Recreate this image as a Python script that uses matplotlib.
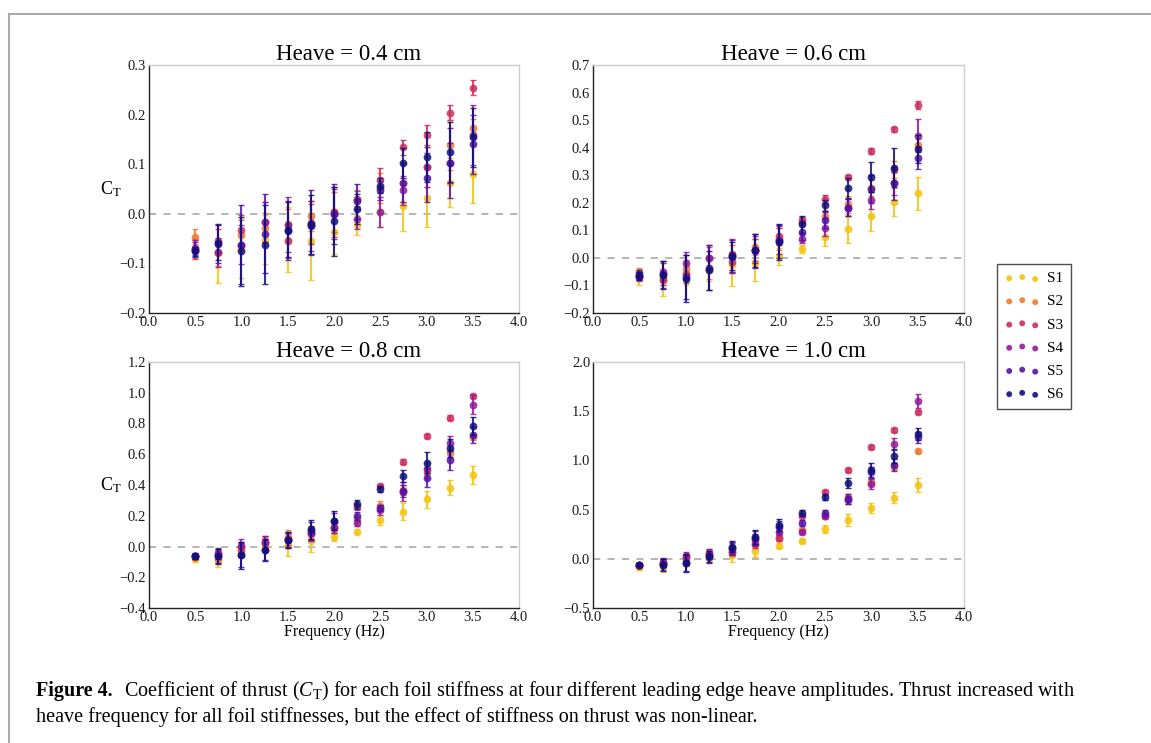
import matplotlib

matplotlib.use("Agg")
import matplotlib.pyplot as plt
from matplotlib.lines import Line2D

FREQ = [0.5, 0.75, 1.0, 1.25, 1.5, 1.75, 2.0, 2.25, 2.5, 2.75, 3.0, 3.25, 3.5]
SERIES = ["S1", "S2", "S3", "S4", "S5", "S6"]
COLORS = ["#f2c40f", "#f07a2a", "#cc2e5e", "#951a9a", "#5412a8", "#10107a"]
HEAVES = ["0.4", "0.6", "0.8", "1.0"]

# thrust coefficient, one row per stiffness S1..S6
CT_04 = [
    [-0.070, -0.080, -0.070, -0.052, -0.052, -0.054, -0.036, -0.022, 0.003, 0.015, 0.032, 0.063, 0.080],
    [-0.046, -0.080, -0.042, -0.029, -0.020, -0.004, 0.003, 0.028, 0.052, 0.063, 0.094, 0.139, 0.172],
    [-0.072, -0.055, -0.032, -0.017, -0.055, -0.020, 0.004, 0.030, 0.068, 0.134, 0.159, 0.204, 0.254],
    [-0.068, -0.078, -0.062, -0.017, -0.022, -0.024, 0.000, -0.010, 0.003, 0.047, 0.094, 0.102, 0.159],
    [-0.072, -0.060, -0.062, -0.040, -0.034, -0.018, 0.000, 0.025, 0.047, 0.063, 0.073, 0.102, 0.140],
    [-0.076, -0.058, -0.076, -0.062, -0.032, -0.022, -0.015, 0.010, 0.057, 0.103, 0.115, 0.125, 0.154],
]
ERR_04 = [
    [0.020, 0.060, 0.060, 0.050, 0.065, 0.080, 0.045, 0.020, 0.030, 0.050, 0.058, 0.050, 0.058],
    [0.015, 0.025, 0.030, 0.030, 0.030, 0.030, 0.040, 0.020, 0.030, 0.040, 0.040, 0.050, 0.020],
    [0.020, 0.025, 0.030, 0.040, 0.035, 0.040, 0.050, 0.015, 0.025, 0.015, 0.020, 0.015, 0.015],
    [0.015, 0.030, 0.040, 0.040, 0.055, 0.050, 0.050, 0.020, 0.030, 0.030, 0.040, 0.040, 0.060],
    [0.015, 0.040, 0.080, 0.080, 0.060, 0.065, 0.060, 0.035, 0.020, 0.040, 0.050, 0.070, 0.060],
    [0.010, 0.035, 0.070, 0.080, 0.055, 0.060, 0.070, 0.030, 0.015, 0.030, 0.050, 0.060, 0.060],
]

CT_06 = [
    [-0.070, -0.080, -0.060, -0.045, -0.027, -0.018, 0.006, 0.032, 0.074, 0.105, 0.151, 0.203, 0.234],
    [-0.050, -0.070, -0.039, -0.040, 0.015, 0.040, 0.070, 0.130, 0.152, 0.194, 0.254, 0.320, 0.410],
    [-0.070, -0.080, -0.060, 0.000, -0.015, 0.030, 0.078, 0.137, 0.213, 0.292, 0.387, 0.466, 0.554],
    [-0.065, -0.050, -0.020, 0.000, 0.010, 0.030, 0.065, 0.068, 0.110, 0.182, 0.209, 0.270, 0.443],
    [-0.060, -0.060, -0.070, -0.035, 0.005, 0.025, 0.060, 0.095, 0.137, 0.182, 0.250, 0.270, 0.364],
    [-0.065, -0.063, -0.075, -0.045, 0.006, 0.028, 0.058, 0.122, 0.191, 0.254, 0.294, 0.327, 0.395],
]
ERR_06 = [
    [0.030, 0.060, 0.040, 0.040, 0.075, 0.065, 0.030, 0.015, 0.030, 0.050, 0.055, 0.050, 0.060],
    [0.015, 0.030, 0.030, 0.035, 0.030, 0.030, 0.040, 0.015, 0.020, 0.030, 0.030, 0.030, 0.020],
    [0.015, 0.020, 0.030, 0.040, 0.035, 0.040, 0.030, 0.010, 0.015, 0.010, 0.010, 0.010, 0.015],
    [0.015, 0.030, 0.040, 0.045, 0.060, 0.050, 0.050, 0.015, 0.030, 0.030, 0.030, 0.040, 0.060],
    [0.015, 0.050, 0.080, 0.080, 0.060, 0.060, 0.060, 0.030, 0.030, 0.030, 0.050, 0.060, 0.040],
    [0.015, 0.050, 0.085, 0.070, 0.050, 0.060, 0.065, 0.030, 0.020, 0.035, 0.055, 0.070, 0.050],
]

CT_08 = [
    [-0.080, -0.086, -0.030, 0.010, 0.010, 0.037, 0.065, 0.097, 0.173, 0.227, 0.307, 0.383, 0.465],
    [-0.070, -0.080, -0.020, 0.030, 0.065, 0.090, 0.120, 0.177, 0.266, 0.368, 0.486, 0.605, 0.714],
    [-0.060, -0.040, 0.000, 0.028, 0.050, 0.080, 0.120, 0.260, 0.394, 0.551, 0.718, 0.839, 0.979],
    [-0.065, -0.050, 0.006, 0.025, 0.040, 0.085, 0.125, 0.151, 0.238, 0.357, 0.502, 0.670, 0.923],
    [-0.060, -0.060, -0.055, -0.020, 0.045, 0.100, 0.165, 0.200, 0.249, 0.360, 0.448, 0.560, 0.724],
    [-0.065, -0.065, -0.058, -0.022, 0.043, 0.112, 0.169, 0.274, 0.374, 0.458, 0.545, 0.642, 0.785],
]
ERR_08 = [
    [0.020, 0.050, 0.040, 0.040, 0.070, 0.070, 0.030, 0.015, 0.035, 0.055, 0.055, 0.050, 0.060],
    [0.015, 0.030, 0.030, 0.030, 0.040, 0.040, 0.030, 0.020, 0.030, 0.030, 0.040, 0.030, 0.020],
    [0.010, 0.020, 0.030, 0.040, 0.040, 0.040, 0.030, 0.015, 0.015, 0.015, 0.015, 0.015, 0.015],
    [0.015, 0.030, 0.040, 0.045, 0.050, 0.050, 0.040, 0.020, 0.030, 0.060, 0.040, 0.050, 0.060],
    [0.015, 0.050, 0.080, 0.070, 0.050, 0.060, 0.050, 0.025, 0.020, 0.040, 0.060, 0.060, 0.050],
    [0.015, 0.050, 0.090, 0.070, 0.050, 0.060, 0.060, 0.030, 0.020, 0.040, 0.070, 0.060, 0.060],
]

CT_10 = [
    [-0.080, -0.070, -0.020, 0.010, 0.040, 0.081, 0.135, 0.182, 0.300, 0.395, 0.520, 0.622, 0.750],
    [-0.070, -0.060, 0.000, 0.040, 0.070, 0.150, 0.210, 0.294, 0.430, 0.630, 0.784, 0.936, 1.095],
    [-0.060, -0.030, 0.020, 0.057, 0.074, 0.152, 0.210, 0.440, 0.676, 0.902, 1.139, 1.307, 1.493],
    [-0.060, -0.040, 0.030, 0.050, 0.100, 0.190, 0.277, 0.277, 0.440, 0.598, 0.760, 1.166, 1.601],
    [-0.060, -0.050, -0.040, 0.020, 0.110, 0.210, 0.320, 0.360, 0.463, 0.610, 0.878, 0.953, 1.233],
    [-0.060, -0.060, -0.044, 0.024, 0.125, 0.220, 0.345, 0.463, 0.625, 0.767, 0.902, 1.047, 1.267],
]
ERR_10 = [
    [0.030, 0.060, 0.050, 0.040, 0.070, 0.060, 0.030, 0.020, 0.040, 0.060, 0.050, 0.060, 0.070],
    [0.015, 0.030, 0.030, 0.040, 0.040, 0.040, 0.030, 0.020, 0.030, 0.030, 0.030, 0.030, 0.020],
    [0.010, 0.030, 0.030, 0.040, 0.040, 0.040, 0.030, 0.015, 0.020, 0.020, 0.020, 0.020, 0.020],
    [0.015, 0.040, 0.040, 0.050, 0.060, 0.060, 0.040, 0.020, 0.030, 0.040, 0.050, 0.060, 0.070],
    [0.015, 0.060, 0.080, 0.060, 0.060, 0.070, 0.060, 0.030, 0.030, 0.050, 0.060, 0.060, 0.060],
    [0.015, 0.060, 0.090, 0.060, 0.060, 0.070, 0.060, 0.030, 0.030, 0.050, 0.070, 0.070, 0.060],
]

YLIMS = [(-0.2, 0.3), (-0.2, 0.7), (-0.4, 1.2), (-0.5, 2.0)]
YSTEPS = [0.1, 0.1, 0.2, 0.5]

SERIF = "Liberation Serif"

plt.rcParams.update(
    {
        "font.family": SERIF,
        "mathtext.fontset": "custom",
        "mathtext.rm": SERIF,
        "mathtext.it": SERIF + ":italic",
        "mathtext.bf": SERIF + ":bold",
        "axes.unicode_minus": True,
    }
)

W, H = 1151, 743
fig = plt.figure(figsize=(W / 100, H / 100), dpi=100)

# axes boxes in pixels (left, top, right, bottom)
BOXES = [(149, 65, 519, 313), (593, 65, 964, 313), (149, 362, 519, 608), (593, 362, 964, 608)]

data = [(CT_04, ERR_04), (CT_06, ERR_06), (CT_08, ERR_08), (CT_10, ERR_10)]

for i, (l, t, r, b) in enumerate(BOXES):
    ax = fig.add_axes([l / W, 1 - b / H, (r - l) / W, (b - t) / H])
    ct, err = data[i]
    for j in range(len(SERIES)):
        ax.errorbar(
            FREQ, ct[j], yerr=err[j], fmt="o", color=COLORS[j], ms=5.6,
            mec="none", alpha=0.85, elinewidth=1.5, capsize=2.5, capthick=1.0,
            ecolor=COLORS[j], zorder=3 + j,
        )
    ax.axhline(0, color="#b0b0b0", lw=1.3, ls=(0, (4, 4)), zorder=1)
    ax.set_xlim(0, 4)
    ax.set_ylim(*YLIMS[i])
    lo, hi = YLIMS[i]
    n = int(round((hi - lo) / YSTEPS[i]))
    ax.set_yticks([lo + k * YSTEPS[i] for k in range(n + 1)])
    ax.set_yticklabels([f"{lo + k * YSTEPS[i]:.1f}".replace("-", "\u2212") for k in range(n + 1)])
    ax.set_xticks([k * 0.5 for k in range(9)])
    ax.set_xticklabels([f"{k * 0.5:.1f}" for k in range(9)])
    ax.tick_params(length=0, pad=2, labelsize=10.5, colors="#1a1a1a")
    for side in ["left", "bottom"]:
        ax.spines[side].set_color("#222222")
        ax.spines[side].set_linewidth(1.0)
    for side in ["top", "right"]:
        ax.spines[side].set_color("#cccccc")
        ax.spines[side].set_linewidth(1.0)
    ax.set_title(f"Heave = {HEAVES[i]} cm", fontsize=16.5, x=0.54, pad=3)
    if i in (0, 2):
        ax.set_ylabel(r"C$_\mathregular{T}$", fontsize=13, rotation=0)
        ax.yaxis.set_label_coords(-0.103, 0.5)
        ax.yaxis.label.set_va("center")
    if i in (2, 3):
        ax.set_xlabel("Frequency (Hz)", fontsize=11.5, labelpad=0)

# legend with three dots per entry
handles = [
    plt.scatter([], [], s=18, color=c, alpha=0.9, edgecolors="none", label=s)
    for c, s in zip(COLORS, SERIES)
]
leg = fig.legend(
    handles=handles, loc="upper left", bbox_to_anchor=(997 / W, 1 - 264 / H),
    scatterpoints=3, fontsize=11, frameon=True, fancybox=False, borderpad=0.5,
    labelspacing=0.62, handletextpad=0.5, handlelength=2.3, borderaxespad=0,
)
leg.get_frame().set_edgecolor("#222222")
leg.get_frame().set_linewidth(1.0)

# page frame lines
fig.add_artist(Line2D([9 / W, 1], [1 - 14 / H, 1 - 14 / H], color="#a8a8a8", lw=1.5))
fig.add_artist(Line2D([9 / W, 9 / W], [0, 1 - 14 / H], color="#a8a8a8", lw=1.5))

# caption
fig.text(36 / W, 1 - 696 / H, "Figure 4.", fontsize=14.5, fontweight="bold", va="baseline")
fig.text(
    124 / W, 1 - 696 / H,
    r"Coefficient of thrust ($C_\mathrm{T}$) for each foil stiffness at four different leading "
    "edge heave amplitudes. Thrust increased with",
    fontsize=14.5, va="baseline",
)
fig.text(
    36 / W, 1 - 722 / H,
    "heave frequency for all foil stiffnesses, but the effect of stiffness on thrust was non-linear.",
    fontsize=14.5, va="baseline",
)

fig.savefig("out.png", dpi=100)
